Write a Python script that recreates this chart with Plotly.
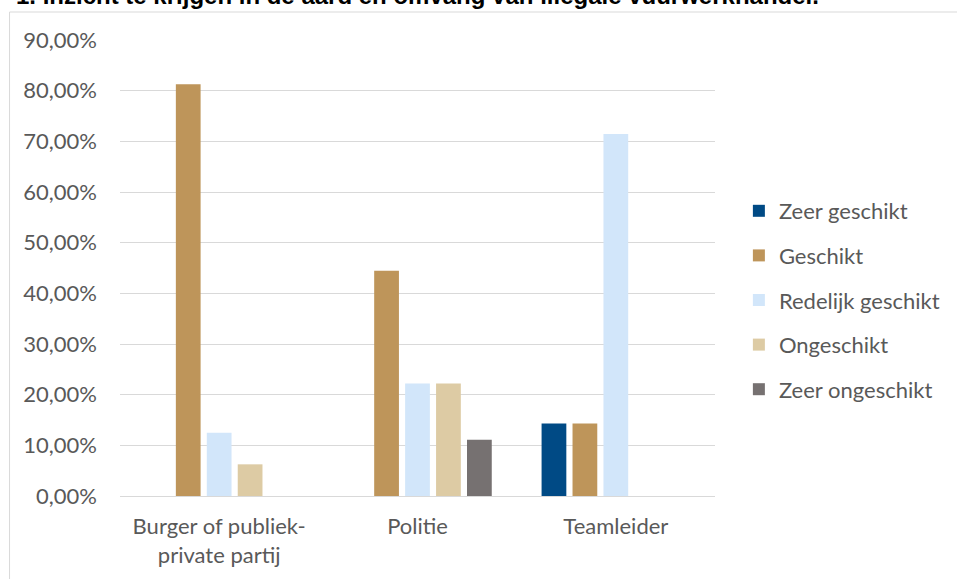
import plotly.graph_objects as go

categories = ["Burger of publiek-<br>private partij", "Politie", "Teamleider"]
series_names = ["Zeer geschikt", "Geschikt", "Redelijk geschikt", "Ongeschikt", "Zeer ongeschikt"]
zeer_geschikt = [0, 0, 14.29]
geschikt = [81.25, 44.44, 14.29]
redelijk_geschikt = [12.5, 22.22, 71.43]
ongeschikt = [6.25, 22.22, 0]
zeer_ongeschikt = [0, 11.11, 0]
y_ticks = [0, 10, 20, 30, 40, 50, 60, 70, 80, 90]
y_tick_labels = [f"{v:.2f}".replace(".", ",") + "%" for v in y_ticks]
title_text = "1. Inzicht te krijgen in de aard en omvang van illegale vuurwerkhandel."

colors = ["#004A85", "#BE955A", "#D2E6FA", "#DDCBA4", "#767171"]
values = [zeer_geschikt, geschikt, redelijk_geschikt, ongeschikt, zeer_ongeschikt]

W, H = 957, 579
L, R, T, B = 120, 239, 40, 83
pw, ph = W - L - R, H - T - B

def px(x):
    return (x - L) / pw

def py(y):
    return (H - B - y) / ph

fig = go.Figure()
for name, vals, col in zip(series_names, values, colors):
    fig.add_trace(go.Bar(
        name=name, x=categories, y=vals, marker_color=col,
        marker_line_width=0, legendgroup=name,
    ))

font = "Lato, Calibri, sans-serif"
fs = 22
fig.update_layout(
    width=W, height=H,
    margin=dict(l=L, r=R, t=T, b=B),
    paper_bgcolor="white", plot_bgcolor="white",
    barmode="group", bargap=0.22, bargroupgap=0.2,
    font=dict(family=font, size=fs, color="#595959"),
    showlegend=True,
    legend=dict(
        x=px(742), y=py(190), xanchor="left", yanchor="top",
        font=dict(family=font, size=fs, color="#595959"),
        tracegroupgap=13, bgcolor="rgba(0,0,0,0)",
    ),
    xaxis=dict(showgrid=False, showline=False, ticks="", zeroline=False,
               ticklabelstandoff=15,
               tickfont=dict(family=font, size=fs, color="#595959")),
    yaxis=dict(range=[0, 90], tickvals=y_ticks, ticktext=y_tick_labels,
               showgrid=True, gridcolor="#D9D9D9", gridwidth=1,
               zeroline=True, zerolinecolor="#D9D9D9", zerolinewidth=1,
               showline=False, ticks="", ticklabelstandoff=22,
               tickfont=dict(family=font, size=fs, color="#595959")),
    shapes=[dict(type="rect", xref="paper", yref="paper",
                 x0=px(9), x1=px(965), y0=py(590), y1=py(12),
                 line=dict(color="#D9D9D9", width=1), fillcolor="rgba(0,0,0,0)",
                 layer="below")],
    annotations=[dict(text="<b>" + title_text + "</b>", xref="paper", yref="paper",
                      x=px(13), y=py(-5), xanchor="left", yanchor="middle",
                      showarrow=False,
                      font=dict(family="Liberation Sans, Arial", size=24, color="black"))],
)

fig.write_html("out.html", post_script="document.body.style.margin='0';",
               config={"displayModeBar": False})
